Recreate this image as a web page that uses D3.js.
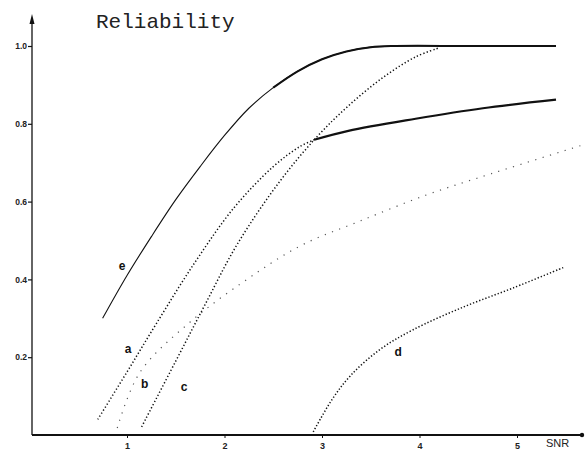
<!DOCTYPE html>
<html>
<head>
<meta charset="utf-8">
<script src="https://cdn.jsdelivr.net/npm/d3@7"></script>
<style>
  body { margin: 0; background: #fff; }
  svg { display: block; }
</style>
</head>
<body>
<svg width="585" height="451"></svg>
<script>
// values (x = SNR, y = reliability)
var eX = [0.75, 1.0, 1.25, 1.5, 1.75, 2.0, 2.25, 2.5, 2.75, 3.0, 3.25, 3.5, 3.75, 4.5, 5.4];
var eY = [0.30, 0.41, 0.51, 0.605, 0.69, 0.77, 0.84, 0.893, 0.935, 0.966, 0.986, 0.997, 1.0, 1.0, 1.0];

var aX = [0.7, 1.0, 1.3, 1.7, 2.1, 2.5, 2.77, 2.92];
var aY = [0.04, 0.162, 0.286, 0.445, 0.585, 0.69, 0.741, 0.759];
var aSolidX = [2.92, 3.27, 3.96, 4.65, 5.4];
var aSolidY = [0.759, 0.782, 0.813, 0.84, 0.862];

var bX = [0.9, 1.13, 1.65, 2.33, 2.8, 3.37, 4.07, 4.74, 5.68];
var bY = [0.018, 0.16, 0.291, 0.417, 0.489, 0.548, 0.617, 0.672, 0.746];

var cX = [1.15, 1.5, 1.8, 2.13, 2.57, 2.95, 3.27, 3.62, 3.96, 4.2];
var cY = [0.021, 0.19, 0.335, 0.49, 0.653, 0.767, 0.846, 0.918, 0.972, 0.995];

var dX = [2.91, 3.1, 3.29, 3.59, 3.93, 4.45, 4.96, 5.49];
var dY = [0.008, 0.09, 0.152, 0.219, 0.27, 0.329, 0.378, 0.432];

var curveLabels = ["e", "a", "b", "c", "d"];
var labelX = [0.95, 1.01, 1.18, 1.585, 3.78];
var labelY = [0.435, 0.221, 0.131, 0.123, 0.213];

var xTicks = [1, 2, 3, 4, 5];
var yTicks = [0.2, 0.4, 0.6, 0.8, 1.0];

var svg = d3.select("svg");
var x = d3.scaleLinear().domain([0, 6]).range([29.5, 614.5]);
var y = d3.scaleLinear().domain([0, 1]).range([435, 46]);

function pts(xs, ys) { return xs.map(function(v, i) { return [v, ys[i]]; }); }
var line = d3.line().x(function(d) { return x(d[0]); }).y(function(d) { return y(d[1]); })
  .curve(d3.curveCatmullRom.alpha(0.5));

// axes lines
svg.append("line").attr("x1", 32).attr("x2", 32).attr("y1", 435).attr("y2", 20)
  .attr("stroke", "#111").attr("stroke-width", 1.3);
svg.append("path").attr("d", "M32,14 L29.5,24 L34.5,24 Z").attr("fill", "#111");
svg.append("line").attr("x1", 32).attr("x2", 582).attr("y1", 435).attr("y2", 435)
  .attr("stroke", "#111").attr("stroke-width", 2);
svg.append("circle").attr("cx", 582).attr("cy", 435).attr("r", 2.2).attr("fill", "#111");

var ya = svg.append("g").attr("transform", "translate(32,0)")
  .call(d3.axisLeft(y).tickValues(yTicks).tickSize(4).tickFormat(d3.format(".1f")));
ya.select(".domain").remove();
ya.selectAll("text").attr("font-family", "Liberation Sans, sans-serif").attr("font-size", 8.5)
  .attr("font-weight", "bold").attr("dx", 2).attr("fill", "#222");
ya.selectAll("line").attr("stroke", "#111").attr("stroke-width", 1.2);

var xa = svg.append("g").attr("transform", "translate(0,435)")
  .call(d3.axisBottom(x).tickValues(xTicks).tickSize(3).tickFormat(d3.format("d")));
xa.select(".domain").remove();
xa.selectAll("text").attr("font-family", "Liberation Sans, sans-serif").attr("font-size", 9)
  .attr("font-weight", "bold").attr("dy", "0.9em").attr("fill", "#222");
xa.selectAll("line").attr("stroke", "#111").attr("stroke-width", 1);

svg.append("text").attr("x", 546).attr("y", 447).text("SNR")
  .attr("font-family", "Liberation Sans, sans-serif").attr("font-size", 11).attr("fill", "#222");

svg.append("text").attr("x", 96).attr("y", 28).text("Reliability")
  .attr("font-family", "Liberation Mono, monospace").attr("font-size", 21).attr("fill", "#222");

// curves
svg.append("path").datum(pts(eX, eY)).attr("d", line).attr("fill", "none")
  .attr("stroke", "#111").attr("stroke-width", 1.1);
svg.append("path").datum(pts(eX.slice(7), eY.slice(7))).attr("d", line).attr("fill", "none")
  .attr("stroke", "#111").attr("stroke-width", 2);
svg.append("path").datum(pts(aX, aY)).attr("d", line).attr("fill", "none")
  .attr("stroke", "#111").attr("stroke-width", 1.5).attr("stroke-dasharray", "1.3,2.2");
svg.append("path").datum(pts(aSolidX, aSolidY)).attr("d", line).attr("fill", "none")
  .attr("stroke", "#111").attr("stroke-width", 2.2);
svg.append("path").datum(pts(bX, bY)).attr("d", line).attr("fill", "none")
  .attr("stroke", "#555").attr("stroke-width", 1.2).attr("stroke-dasharray", "1.2,6.5");
svg.append("path").datum(pts(cX, cY)).attr("d", line).attr("fill", "none")
  .attr("stroke", "#111").attr("stroke-width", 1.5).attr("stroke-dasharray", "1.3,2.2");
svg.append("path").datum(pts(dX, dY)).attr("d", line).attr("fill", "none")
  .attr("stroke", "#111").attr("stroke-width", 1.5).attr("stroke-dasharray", "1.3,2");

svg.selectAll(".clabel").data(curveLabels).enter().append("text").attr("class", "clabel")
  .attr("x", function(d, i) { return x(labelX[i]); })
  .attr("y", function(d, i) { return y(labelY[i]); })
  .attr("dy", "0.35em").attr("text-anchor", "middle")
  .attr("font-family", "Liberation Sans, sans-serif").attr("font-size", 12).attr("font-weight", "bold")
  .attr("fill", "#111").text(function(d) { return d; });
</script>
</body>
</html>
